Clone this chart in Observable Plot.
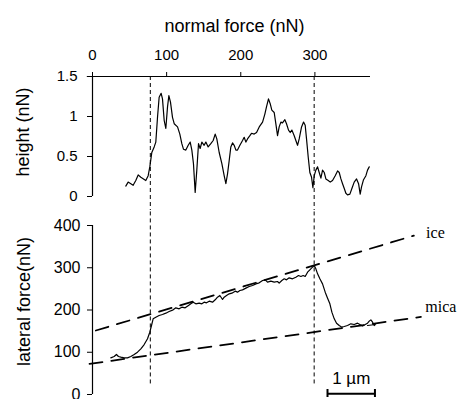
<!DOCTYPE html>
<html><head><meta charset="utf-8">
<script src="https://cdn.jsdelivr.net/npm/d3@7"></script>
<script src="https://cdn.jsdelivr.net/npm/@observablehq/plot@0.6"></script>
<style>
body{margin:0;background:#fff;}
#chart{position:relative;width:461px;height:399px;background:#fff;}
#chart svg{position:absolute;left:0;overflow:visible;}
</style></head><body><div id="chart"></div>
<script>
// ---- data ----
const heightNF = [44.9,48.1,51.7,54.8,58.4,61.6,65.2,68.8,71.9,75.1,77.3,80.0,83.2,85.4,87.7,89.9,92.6,94.4,96.7,98.9,101.2,103.0,105.2,107.9,110.2,114.7,117.8,120.5,122.8,125.9,129.1,131.8,134.0,136.2,138.5,140.7,143.0,145.2,147.5,150.6,152.9,156.0,159.6,162.8,165.5,167.7,170.9,174.5,177.6,179.9,182.1,184.4,186.6,188.9,191.1,193.4,195.6,198.8,202.4,204.6,206.9,209.1,212.3,214.5,218.1,221.3,224.9,229.4,232.5,234.7,237.4,239.7,241.9,245.1,247.3,249.6,251.8,254.1,256.3,259.5,261.7,264.4,266.7,268.9,272.1,274.3,276.6,278.8,282.0,284.7,286.9,288.7,291.0,293.2,295.5,297.3,299.1,301.3,303.6,305.8,308.1,310.3,312.6,314.8,318.0,320.7,323.8,327.4,330.6,332.8,335.1,337.3,339.6,341.8,344.0,347.2,349.9,353.0,356.2,358.9,361.1,362.9,365.6,368.8,371.0,373.3];
const heightNN = [0.13,0.18,0.16,0.14,0.20,0.27,0.24,0.22,0.20,0.26,0.37,0.55,0.62,0.68,0.99,1.24,1.29,1.22,0.95,0.85,1.12,1.26,1.18,0.99,0.91,0.87,0.78,0.66,0.59,0.58,0.64,0.68,0.58,0.41,0.05,0.33,0.66,0.60,0.68,0.64,0.68,0.62,0.66,0.70,0.78,0.72,0.55,0.41,0.26,0.16,0.28,0.45,0.62,0.67,0.64,0.58,0.58,0.64,0.70,0.74,0.68,0.72,0.76,0.79,0.78,0.80,0.87,0.93,1.03,1.12,1.22,1.16,1.08,1.05,0.91,0.76,0.87,0.93,0.92,0.96,0.91,0.83,0.80,0.83,0.76,0.70,0.64,0.72,0.87,0.93,0.89,0.72,0.49,0.30,0.24,0.11,0.26,0.33,0.37,0.30,0.23,0.33,0.30,0.22,0.20,0.18,0.20,0.26,0.32,0.30,0.22,0.16,0.10,0.04,0.02,0.03,0.10,0.18,0.22,0.16,0.03,0.12,0.21,0.26,0.33,0.37];
const lateralNF = [24.7,29.2,32.3,35.0,38.2,42.7,47.2,51.7,56.2,60.7,65.2,69.7,74.2,77.3,79.6,81.8,85.4,89.9,94.4,98.9,103.4,108.8,112.4,116.9,120.5,125.0,129.5,132.6,135.8,139.4,143.9,147.5,150.6,153.8,157.4,161.9,165.5,168.6,171.8,175.4,177.6,180.8,184.4,188.0,192.5,195.6,198.8,202.4,206.9,211.4,215.9,220.4,224.9,229.4,233.0,236.1,240.6,245.1,249.6,251.8,255.4,258.6,261.7,265.3,269.8,274.3,277.9,281.1,284.2,286.9,290.1,293.2,296.8,299.1,301.3,303.6,306.7,310.3,313.9,317.1,320.2,322.9,326.1,329.2,332.8,336.4,339.6,344.0,348.5,353.0,357.5,360.7,364.3,367.9,371.0,373.3,375.5,377.8,380.0,381.4,371.0];
const lateralNN = [86.8,89.9,94.7,89.9,88.4,86.8,86.8,89.9,94.7,100.2,108.1,118.3,131.8,147.5,163.3,179.1,183.0,187.0,189.3,192.5,196.4,200.4,205.1,202.8,206.7,205.1,210.7,214.6,218.5,214.6,216.2,214.6,218.5,217.0,220.9,218.5,224.1,230.4,234.3,224.9,230.4,234.3,238.3,239.8,244.6,242.2,246.2,247.7,251.7,255.6,258.0,261.9,264.3,269.8,271.4,265.9,268.2,265.9,267.5,263.5,269.8,273.8,271.4,276.1,273.8,277.7,281.7,279.3,281.7,279.3,289.5,295.1,301.4,305.3,297.4,285.6,273.8,261.9,242.2,228.0,214.6,194.9,179.1,168.8,163.3,159.4,160.9,163.3,167.3,165.7,168.8,165.7,162.5,165.7,168.8,173.6,176.7,171.2,163.3,165.7,163.3];

const xTicks = [0, 100, 200, 300];
const heightTicks = [0, 0.5, 1, 1.5];
const lateralTicks = [0, 100, 200, 300, 400];
const transitionNF = [78, 299];

const fitNames = ["ice", "mica"];
const fitStartNF = [4.5, -4];
const fitStartNN = [151.5, 72.5];
const fitEndNF = [433.5, 443];
const fitEndNN = [376, 183.5];
const fitLabelNF = [450, 449];
const fitLabelNN = [383, 207];

const scaleBarText = "1 µm";
const scaleBarNF = [317, 381];
const scaleBarNN = 1.6;
const scaleCapNN = [11.8, -7.1];
const scaleTextNF = 349;
const scaleTextNN = 38;

const xTitle = "normal force (nN)";
const heightTitle = "height (nN)";
const lateralTitle = "lateral force(nN)";
const heightTitleAt = [-93, 0.806];
const lateralTitleAt = [-92, 220];

// ---- tables ----
const heightData = heightNF.map((x, i) => ({x, y: heightNN[i]}));
const lateralData = lateralNF.map((x, i) => ({x, y: lateralNN[i]}));
const fitData = fitNames.flatMap((name, i) => [
  {name, x: fitStartNF[i], y: fitStartNN[i]},
  {name, x: fitEndNF[i], y: fitEndNN[i]}
]);
const labelData = fitNames.map((name, i) => ({name, x: fitLabelNF[i], y: fitLabelNN[i]}));

const sans = "'Liberation Sans', Arial, Helvetica, sans-serif";
const serif = "'Liberation Serif', 'Times New Roman', serif";
const xDomain = [0, 375];

const topPlot = Plot.plot({
  width: 461, height: 210,
  marginLeft: 92, marginRight: 91, marginTop: 76, marginBottom: 14,
  style: {fontFamily: sans, fontSize: "15px", color: "#000", background: "transparent", overflow: "visible"},
  x: {domain: xDomain},
  y: {domain: [0, 1.5]},
  marks: [
    Plot.axisX({anchor: "top", ticks: xTicks, tickSize: 5, tickPadding: 12, label: null, fontSize: 15, tickFormat: d => String(d)}),
    Plot.axisY({anchor: "left", ticks: heightTicks, tickSize: 5, tickPadding: 10, label: null, fontSize: 15, tickFormat: d => String(d)}),
    Plot.ruleY([heightTicks[heightTicks.length - 1]], {x1: -7, x2: xDomain[1], stroke: "#000", strokeWidth: 1.2}),
    Plot.ruleX([0], {y1: 0, y2: 1.5, stroke: "#000", strokeWidth: 1.2}),
    Plot.ruleX(transitionNF, {y1: 1.5, y2: -0.175, stroke: "#000", strokeWidth: 1, strokeDasharray: "4,3"}),
    Plot.line(heightData, {x: "x", y: "y", stroke: "#000", strokeWidth: 1.2}),
    Plot.text([xTitle], {frameAnchor: "top", lineAnchor: "middle", dx: 3, dy: -50, fontSize: 18}),
    Plot.text([heightTitle], {x: heightTitleAt[0], y: heightTitleAt[1], rotate: -90, textAnchor: "middle", lineAnchor: "middle", fontSize: 18})
  ]
});
topPlot.style.top = "0px";

const bottomPlot = Plot.plot({
  width: 461, height: 189,
  marginLeft: 92, marginRight: 91, marginTop: 15, marginBottom: 5,
  style: {fontFamily: sans, fontSize: "15px", color: "#000", background: "transparent", overflow: "visible"},
  x: {domain: xDomain, axis: null},
  y: {domain: [0, 400]},
  marks: [
    Plot.axisY({anchor: "left", ticks: lateralTicks, tickSize: 5, tickPadding: 7, label: null, fontSize: 16, tickFormat: d => String(d)}),
    Plot.ruleX([0], {y1: 0, y2: 400, stroke: "#000", strokeWidth: 1.2}),
    Plot.ruleX(transitionNF, {y1: 25, y2: 435.5, stroke: "#000", strokeWidth: 1, strokeDasharray: "4,3"}),
    Plot.line(fitData, {x: "x", y: "y", z: "name", stroke: "#000", strokeWidth: 1.8, strokeDasharray: "13,9"}),
    Plot.line(lateralData, {x: "x", y: "y", stroke: "#000", strokeWidth: 1.2}),
    Plot.text(labelData, {x: "x", y: "y", text: "name", textAnchor: "start", fontFamily: serif, fontSize: 16}),
    Plot.ruleY([scaleBarNN], {x1: scaleBarNF[0], x2: scaleBarNF[1], stroke: "#000", strokeWidth: 2}),
    Plot.ruleX(scaleBarNF, {y1: scaleCapNN[0], y2: scaleCapNN[1], stroke: "#000", strokeWidth: 2}),
    Plot.text([scaleBarText], {x: scaleTextNF, y: scaleTextNN, fontSize: 17}),
    Plot.text([lateralTitle], {x: lateralTitleAt[0], y: lateralTitleAt[1], rotate: -90, textAnchor: "middle", lineAnchor: "middle", fontSize: 18})
  ]
});
bottomPlot.style.top = "210px";

const chart = document.getElementById("chart");
chart.appendChild(topPlot);
chart.appendChild(bottomPlot);
</script>
</body></html>
